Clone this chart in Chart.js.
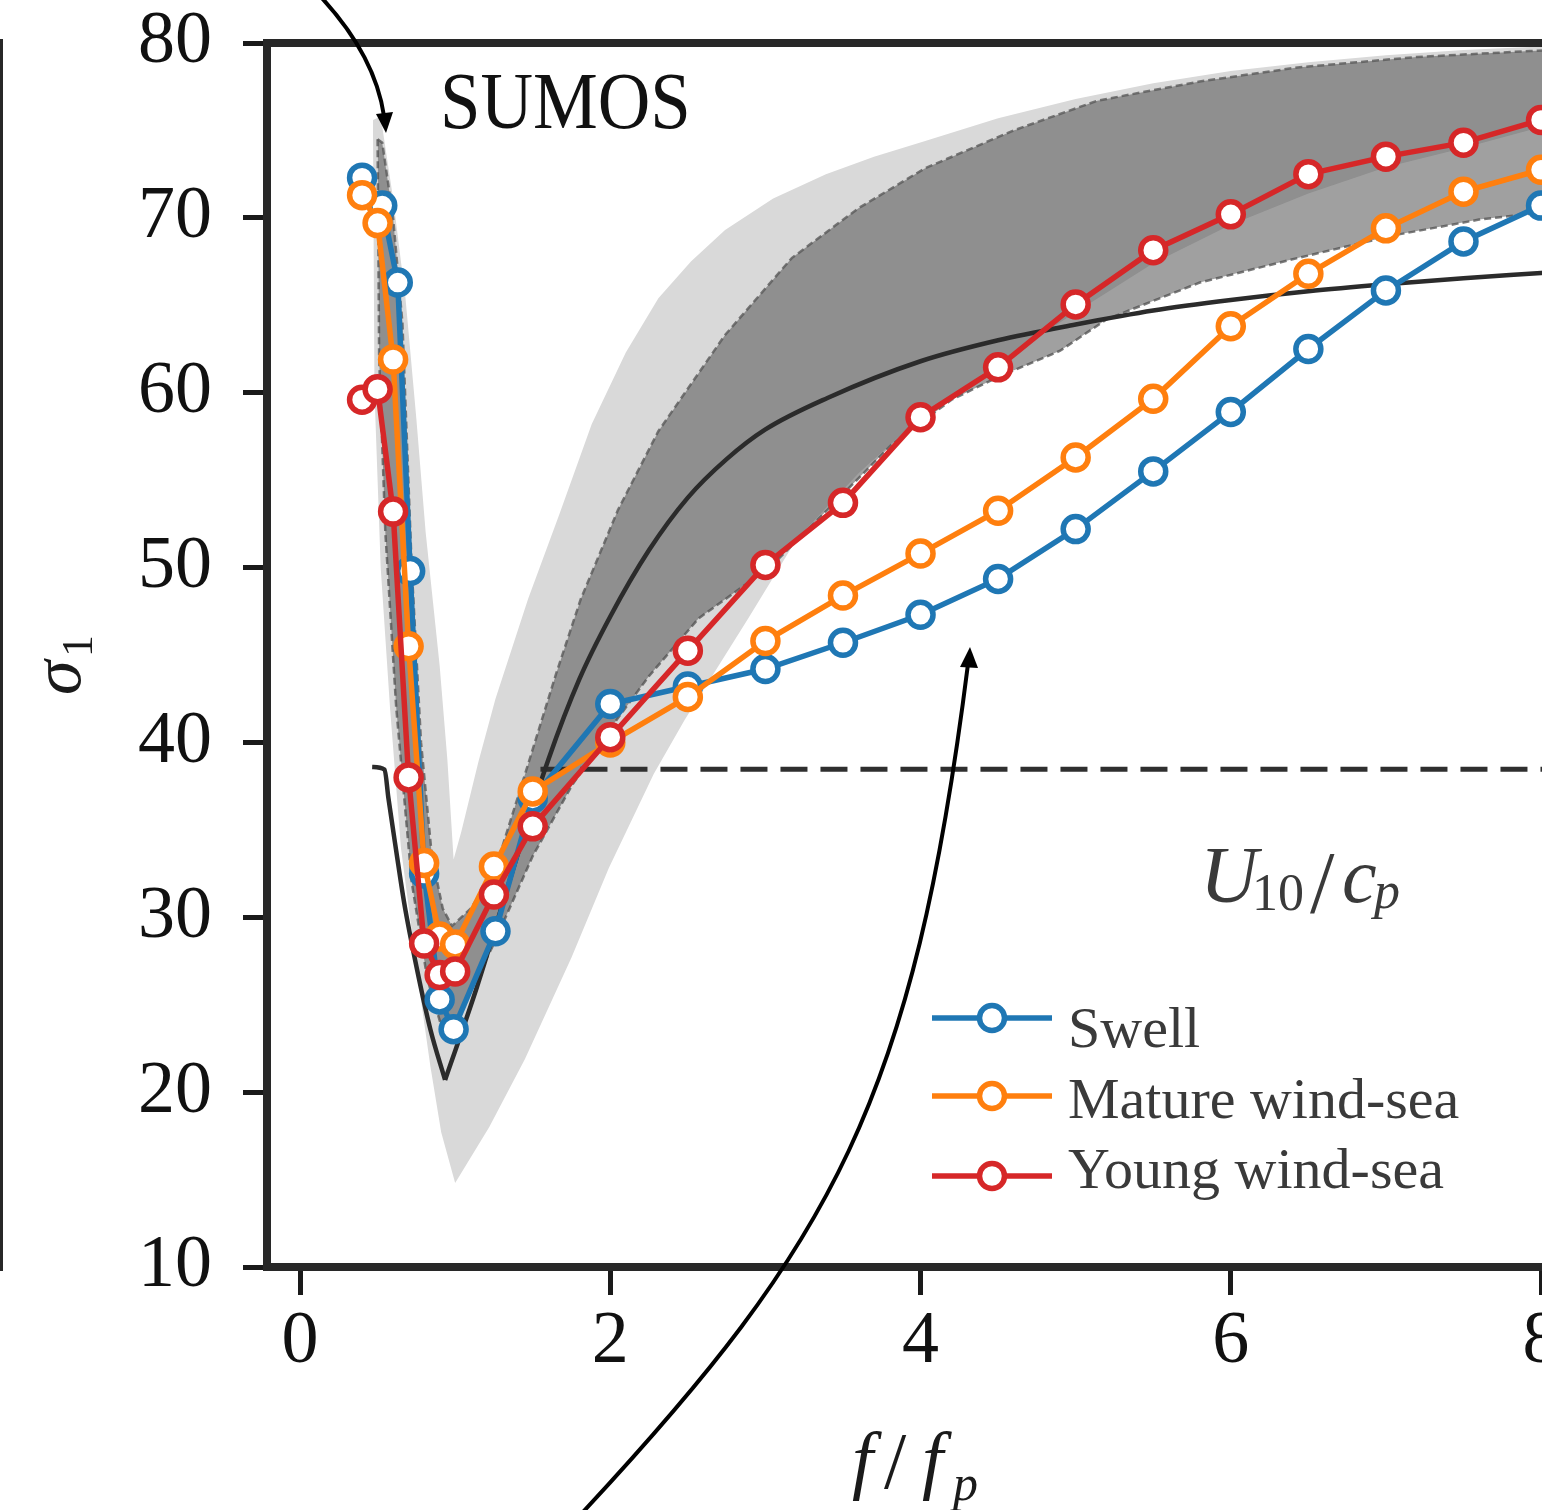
<!DOCTYPE html>
<html>
<head>
<meta charset="utf-8">
<script src="https://cdn.jsdelivr.net/npm/chart.js@4.4.1/dist/chart.umd.min.js"></script>
<style>
  html, body { margin: 0; padding: 0; background: #fff; overflow: hidden; }
  #wrap { position: absolute; left: 0; top: 0; width: 1600px; height: 1510px; }
  canvas { display: block; }
</style>
</head>
<body>
<div id="wrap"><canvas id="c" width="1600" height="1510"></canvas></div>
<script>
// ---- tick values ----
const xTicks = [0, 2, 4, 6, 8];
const yTicks = [10, 20, 30, 40, 50, 60, 70, 80];

// ---- measured sigma_1 per frequency bin (f / fp) ----
const swellX  = [0.40, 0.53, 0.63, 0.71, 0.80, 0.90, 0.99, 1.26, 1.50, 2.00, 2.50, 3.00, 3.50, 4.00, 4.50, 5.00, 5.50, 6.00, 6.50, 7.00, 7.50, 8.00];
const swellY  = [72.3, 70.7, 66.3, 49.8, 32.5, 25.3, 23.6, 29.2, 36.8, 42.2, 43.2, 44.2, 45.7, 47.3, 49.35, 52.2, 55.5, 58.9, 62.5, 65.85, 68.65, 70.7];
const windX   = [0.40, 0.50, 0.60, 0.70, 0.80, 0.90, 1.00, 1.25, 1.50, 2.00, 2.50, 3.00, 3.50, 4.00, 4.50, 5.00, 5.50, 6.00, 6.50, 7.00, 7.50, 8.00];
const matureY = [71.3, 69.7, 61.9, 45.5, 33.1, 28.9, 28.45, 32.9, 37.2, 40.0, 42.6, 45.8, 48.4, 50.8, 53.25, 56.3, 59.65, 63.8, 66.8, 69.4, 71.5, 72.75];
const youngY  = [59.6, 60.2, 53.2, 38.0, 28.5, 26.7, 26.9, 31.3, 35.2, 40.3, 45.25, 50.15, 53.7, 58.6, 61.45, 65.05, 68.15, 70.2, 72.5, 73.5, 74.3, 75.6];

// ---- model curve (two branches either side of the minimum) ----
const fitLeftX  = [0.465, 0.545, 0.57, 0.62, 0.67, 0.75, 0.84, 0.935];
const fitLeftY  = [38.6, 38.45, 36.8, 33.8, 30.9, 27.2, 23.6, 20.7];
const fitRightX = [0.935, 1.14, 1.40, 1.60, 1.80, 2.00, 2.25, 2.50, 2.75, 3.00, 3.40, 4.00, 4.50, 5.00, 5.50, 6.00, 6.50, 7.00, 7.50, 8.00, 8.40];
const fitRightY = [20.7, 26.0, 33.5, 39.0, 43.6, 47.2, 51.0, 54.0, 56.2, 57.9, 59.7, 61.8, 63.0, 63.9, 64.7, 65.3, 65.8, 66.2, 66.55, 66.85, 67.1];

// ---- horizontal reference level ----
const levelX = [1.55, 8.40];
const levelY = [38.47, 38.47];

// ---- outer (light) envelope ----
const lightUpperX = [0.47, 0.52, 0.60, 0.68, 0.75, 0.81, 0.90, 0.95, 0.99, 1.04, 1.15, 1.26, 1.47, 1.67, 1.88, 2.10, 2.31, 2.52, 2.74, 3.05, 3.39, 3.70, 4.03, 4.50, 5.00, 5.50, 6.00, 6.50, 7.00, 7.50, 8.00, 8.40];
const lightUpperY = [75.6, 75.8, 71.1, 65.4, 58.5, 52.0, 44.4, 39.0, 33.3, 34.9, 38.9, 42.5, 48.2, 53.0, 58.2, 62.3, 65.4, 67.5, 69.3, 71.1, 72.5, 73.5, 74.4, 75.7, 76.8, 77.7, 78.4, 78.9, 79.3, 79.6, 79.8, 79.95];
const lightLowerX = [0.47, 0.48, 0.52, 0.58, 0.65, 0.76, 0.84, 0.91, 1.00, 1.22, 1.45, 1.75, 1.99, 2.28, 2.48, 2.89, 3.20, 3.60, 4.00, 4.50, 5.00, 5.50, 6.00, 6.50, 7.00, 7.50, 8.00, 8.40];
const lightLowerY = [75.6, 60.0, 50.0, 42.0, 34.0, 26.5, 21.5, 17.7, 14.8, 18.0, 21.9, 27.7, 32.8, 38.2, 41.3, 47.1, 51.6, 55.4, 58.6, 61.7, 64.6, 67.4, 69.6, 71.4, 72.9, 74.0, 75.2, 75.8];

// ---- inner (dark) envelope ----
const darkUpperX = [0.50, 0.53, 0.60, 0.66, 0.72, 0.78, 0.85, 0.92, 0.98, 1.10, 1.25, 1.465, 1.65, 1.81, 2.05, 2.31, 2.74, 3.17, 3.60, 4.03, 4.60, 5.14, 5.80, 6.43, 7.20, 7.93, 8.40];
const darkUpperY = [74.5, 74.3, 70.0, 64.0, 50.0, 40.0, 33.5, 30.5, 29.5, 30.5, 32.5, 38.6, 43.9, 48.2, 53.3, 57.8, 63.3, 67.7, 70.55, 72.84, 75.0, 76.7, 77.8, 78.6, 79.2, 79.54, 79.7];
const darkLowerX = [0.50, 0.51, 0.55, 0.62, 0.72, 0.82, 0.92, 1.00, 1.25, 1.50, 1.75, 2.00, 2.25, 2.57, 3.04, 3.40, 3.81, 4.20, 4.50, 4.90, 5.20, 5.80, 6.43, 7.05, 7.60, 8.00, 8.40];
const darkLowerY = [74.5, 62.0, 52.0, 42.0, 32.0, 26.5, 23.5, 24.0, 28.5, 33.5, 37.5, 40.8, 43.8, 47.1, 50.1, 53.3, 57.0, 59.6, 60.9, 62.4, 64.2, 66.3, 67.7, 69.0, 69.9, 70.3, 70.9];

const seriesNames = ['Swell', 'Mature wind-sea', 'Young wind-sea'];
const seriesColors = ['#1f77b4', '#ff7f0e', '#d62728'];

function pts(xs, ys) { return xs.map((x, i) => ({ x: x, y: ys[i] })); }

const SERIF = '"Liberation Serif", "DejaVu Serif", serif';

function seriesDataset(label, xs, ys, color, order) {
  return {
    label: label, data: pts(xs, ys), order: order,
    borderColor: color, borderWidth: 5.5, tension: 0, fill: false,
    pointRadius: 12.5, pointBorderWidth: 5.5, pointBorderColor: color,
    pointBackgroundColor: '#ffffff'
  };
}

// keep the plot rectangle exactly where the layout puts it
function noScalePadding(s) {
  s.paddingTop = 0; s.paddingBottom = 0; s.paddingLeft = 0; s.paddingRight = 0;
}

// text, arrows, legend and frame details drawn over the plot
const decorations = {
  id: 'decorations',
  afterDraw(chart) {
    const ctx = chart.ctx;
    const a = chart.chartArea;
    ctx.save();

    // upper frame edge
    ctx.strokeStyle = '#282828';
    ctx.lineWidth = 8;
    ctx.beginPath();
    ctx.moveTo(a.left - 4, a.top);
    ctx.lineTo(a.right + 4, a.top);
    ctx.stroke();

    // edge of the adjoining panel
    ctx.lineWidth = 3;
    ctx.beginPath();
    ctx.moveTo(1.5, 39);
    ctx.lineTo(1.5, 1271);
    ctx.stroke();

    // panel name
    ctx.fillStyle = '#111';
    ctx.textBaseline = 'alphabetic';
    ctx.textAlign = 'left';
    ctx.save();
    ctx.translate(440, 128);
    ctx.scale(0.91, 1);
    ctx.font = '80px ' + SERIF;
    ctx.fillText('SUMOS', 0, 0);
    ctx.restore();

    // U10 / cp label
    ctx.fillStyle = '#3a3a3a';
    ctx.font = 'italic 80px ' + SERIF;
    ctx.fillText('U', 1200, 902);
    ctx.font = '52px ' + SERIF;
    ctx.fillText('10', 1252, 910);
    ctx.font = '88px ' + SERIF;
    ctx.fillText('/', 1310, 912);
    ctx.font = 'italic 78px ' + SERIF;
    ctx.fillText('c', 1342, 902);
    ctx.font = 'italic 52px ' + SERIF;
    ctx.fillText('p', 1374, 908);

    // x-axis title f / fp
    ctx.fillStyle = '#1a1a1a';
    ctx.font = 'italic 76px ' + SERIF;
    ctx.fillText('f', 852, 1485);
    ctx.font = '80px ' + SERIF;
    ctx.fillText('/', 884, 1488);
    ctx.font = 'italic 76px ' + SERIF;
    ctx.fillText('f', 922, 1485);
    ctx.font = 'italic 50px ' + SERIF;
    ctx.fillText('p', 953, 1500);

    // y-axis title sigma_1 (rotated)
    ctx.save();
    ctx.translate(80, 695);
    ctx.rotate(-Math.PI / 2);
    ctx.font = 'italic 70px ' + SERIF;
    ctx.fillText('\u03C3', 0, 0);
    ctx.font = '44px ' + SERIF;
    ctx.fillText('1', 38, 12);
    ctx.restore();

    // legend
    const rows = [1018, 1096, 1176];
    const bases = [1047, 1118, 1188];
    ctx.font = '58px ' + SERIF;
    for (let i = 0; i < seriesNames.length; i++) {
      const ds = chart.data.datasets.find(d => d.label === seriesNames[i]);
      const y = rows[i];
      ctx.strokeStyle = ds.borderColor;
      ctx.lineWidth = 5.5;
      ctx.beginPath();
      ctx.moveTo(932, y);
      ctx.lineTo(1052, y);
      ctx.stroke();
      ctx.beginPath();
      ctx.arc(992, y, 12.5, 0, Math.PI * 2);
      ctx.fillStyle = '#fff';
      ctx.fill();
      ctx.stroke();
      ctx.fillStyle = '#3a3a3a';
      ctx.fillText(ds.label, 1068, bases[i]);
    }

    // arrows
    ctx.strokeStyle = '#000';
    ctx.fillStyle = '#000';
    ctx.lineWidth = 4;
    ctx.beginPath();
    ctx.moveTo(320, -4);
    ctx.quadraticCurveTo(375, 55, 384, 116);
    ctx.stroke();
    ctx.beginPath();
    ctx.moveTo(386, 133);
    ctx.lineTo(376, 114);
    ctx.lineTo(393, 112);
    ctx.closePath();
    ctx.fill();

    ctx.beginPath();
    ctx.moveTo(583, 1512);
    ctx.bezierCurveTo(833, 1243, 913, 1101, 968, 664);
    ctx.stroke();
    ctx.beginPath();
    ctx.moveTo(970, 647);
    ctx.lineTo(960, 667);
    ctx.lineTo(978, 668);
    ctx.closePath();
    ctx.fill();

    ctx.restore();
  }
};

new Chart(document.getElementById('c'), {
  type: 'line',
  data: {
    datasets: [
      { label: 'outer-upper', data: pts(lightUpperX, lightUpperY), order: 9, borderWidth: 0, pointRadius: 0, tension: 0,
        fill: '+1', backgroundColor: '#d9d9d9', borderColor: 'rgba(0,0,0,0)' },
      { label: 'outer-lower', data: pts(lightLowerX, lightLowerY), order: 9, borderWidth: 0, pointRadius: 0, tension: 0,
        fill: false, borderColor: 'rgba(0,0,0,0)' },
      { label: 'inner-upper', data: pts(darkUpperX, darkUpperY), order: 8, borderWidth: 2.5, borderDash: [7, 4], pointRadius: 0, tension: 0,
        fill: '+1', backgroundColor: 'rgba(79,79,79,0.54)', borderColor: 'rgba(90,90,90,0.8)' },
      { label: 'inner-lower', data: pts(darkLowerX, darkLowerY), order: 8, borderWidth: 2.5, borderDash: [7, 4], pointRadius: 0, tension: 0,
        fill: false, borderColor: 'rgba(90,90,90,0.8)' },
      { label: 'model-low', data: pts(fitLeftX, fitLeftY), order: 5, borderWidth: 4.5, pointRadius: 0,
        cubicInterpolationMode: 'monotone', fill: false, borderColor: '#2b2b2b' },
      { label: 'model-high', data: pts(fitRightX, fitRightY), order: 5, borderWidth: 4.5, pointRadius: 0,
        cubicInterpolationMode: 'monotone', fill: false, borderColor: '#2b2b2b' },
      { label: 'level', data: pts(levelX, levelY), order: 5, borderWidth: 5, borderDash: [27, 13], pointRadius: 0,
        fill: false, borderColor: '#2f2f2f' },
      seriesDataset(seriesNames[0], swellX, swellY, seriesColors[0], 3),
      seriesDataset(seriesNames[1], windX, matureY, seriesColors[1], 2),
      seriesDataset(seriesNames[2], windX, youngY, seriesColors[2], 1)
    ]
  },
  options: {
    responsive: false,
    animation: false,
    events: [],
    layout: { padding: { top: 43, left: 0, right: 0, bottom: 0 } },
    plugins: { legend: { display: false }, tooltip: { enabled: false } },
    scales: {
      x: {
        type: 'linear', min: -0.2129, max: 8.264,
        afterFit(s) { s.height = 243; noScalePadding(s); },
        afterBuildTicks(s) { s.ticks = xTicks.map(v => ({ value: v })); },
        grid: { display: true, drawOnChartArea: false, drawTicks: true, tickLength: 28, tickWidth: 5, tickColor: '#1a1a1a' },
        border: { display: true, width: 8, color: '#282828' },
        ticks: { font: { family: SERIF, size: 74 }, color: '#111', padding: 3, maxRotation: 0, autoSkip: false }
      },
      y: {
        type: 'linear', min: 10, max: 80,
        afterFit(s) { s.width = 267; noScalePadding(s); },
        afterBuildTicks(s) { s.ticks = yTicks.map(v => ({ value: v })); },
        grid: { display: true, drawOnChartArea: false, drawTicks: true, tickLength: 24, tickWidth: 5, tickColor: '#1a1a1a' },
        border: { display: true, width: 8, color: '#282828' },
        ticks: { font: { family: SERIF, size: 74 }, color: '#111', padding: 31, autoSkip: false }
      }
    }
  },
  plugins: [decorations]
});
</script>
</body>
</html>
